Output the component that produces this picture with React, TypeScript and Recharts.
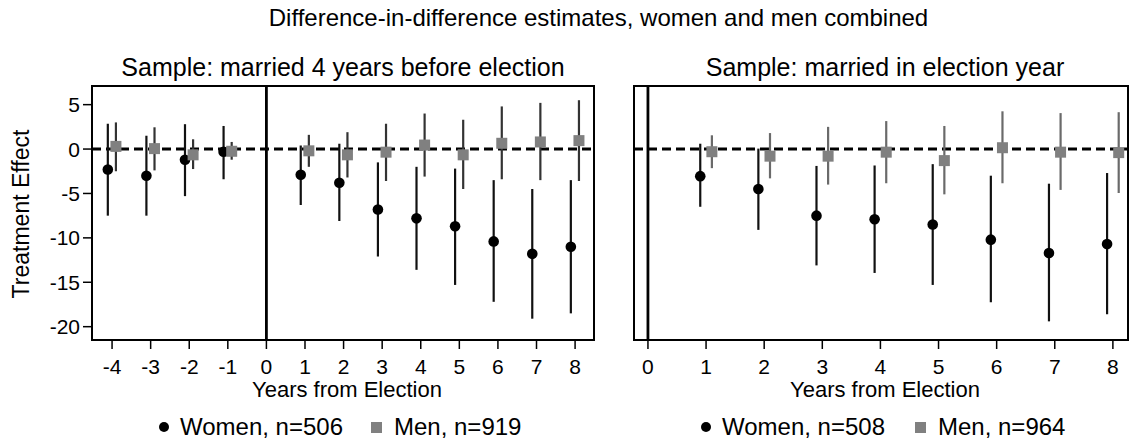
import React from 'react';
import { ScatterChart, Scatter, XAxis, YAxis, ErrorBar, ReferenceLine, ReferenceArea } from 'recharts';

// left panel: married 4 years before election
const leftYears = [-4, -3, -2, -1, 1, 2, 3, 4, 5, 6, 7, 8];
const leftWomenEst = [-2.3, -3.0, -1.2, -0.3, -2.9, -3.8, -6.8, -7.8, -8.7, -10.4, -11.8, -11.0];
const leftWomenLo = [-7.5, -7.5, -5.3, -3.4, -6.3, -8.1, -12.1, -13.6, -15.3, -17.2, -19.1, -18.5];
const leftWomenHi = [2.85, 1.5, 2.8, 2.6, 0.4, 0.6, -1.5, -2.0, -2.2, -3.5, -4.5, -3.5];
const leftMenEst = [0.3, 0.05, -0.65, -0.25, -0.2, -0.65, -0.35, 0.45, -0.65, 0.65, 0.8, 0.95];
const leftMenLo = [-2.5, -2.4, -2.25, -1.2, -2.0, -3.2, -3.6, -3.1, -4.5, -3.4, -3.5, -3.6];
const leftMenHi = [3.0, 2.45, 1.1, 0.8, 1.6, 1.9, 2.85, 4.0, 3.3, 4.8, 5.2, 5.5];

// right panel: married in election year
const rightYears = [1, 2, 3, 4, 5, 6, 7, 8];
const rightWomenEst = [-3.05, -4.5, -7.5, -7.9, -8.5, -10.2, -11.7, -10.7];
const rightWomenLo = [-6.5, -9.1, -13.1, -13.95, -15.3, -17.25, -19.4, -18.6];
const rightWomenHi = [0.6, 0.05, -1.9, -1.85, -1.7, -3.0, -3.9, -2.7];
const rightMenEst = [-0.3, -0.8, -0.8, -0.35, -1.3, 0.15, -0.35, -0.4];
const rightMenLo = [-2.15, -3.3, -4.0, -3.85, -5.1, -3.85, -4.6, -4.95];
const rightMenHi = [1.55, 1.8, 2.5, 3.15, 2.6, 4.25, 4.05, 4.15];

const leftXTicks = [-4, -3, -2, -1, 0, 1, 2, 3, 4, 5, 6, 7, 8];
const rightXTicks = [0, 1, 2, 3, 4, 5, 6, 7, 8];
const yTicks = [-20, -15, -10, -5, 0, 5];
const yDomain = [-21.5, 7.1];

const FONT = '"Liberation Sans", Arial, sans-serif';
const GRAY = '#808080';

const build = (xs: number[], est: number[], lo: number[], hi: number[], shift: number) =>
  xs.map((x, i) => ({ x: x + shift, y: est[i], err: [est[i] - lo[i], hi[i] - est[i]] }));

const Square = (p: any) => <rect x={p.cx - 5.5} y={p.cy - 5.5} width={11} height={11} fill={GRAY} />;
const Dot = (p: any) => <circle cx={p.cx} cy={p.cy} r={5.3} fill="#000" />;

type PanelProps = {
  width: number;
  yAxisWidth: number;
  showYLabels: boolean;
  xDomain: number[];
  xTicks: number[];
  women: any[];
  men: any[];
  menBar: string;
  right: number;
};

const Panel = ({ width, yAxisWidth, showYLabels, xDomain, xTicks, women, men, menBar, right }: PanelProps) => (
  <ScatterChart width={width} height={441} margin={{ top: 86, right, bottom: 71, left: 0 }}>
    <XAxis
      type="number"
      dataKey="x"
      domain={xDomain}
      ticks={xTicks}
      allowDataOverflow
      axisLine={false}
      tickSize={9}
      tickMargin={10}
      tickLine={{ stroke: '#000', strokeWidth: 1.5 }}
      tick={{ fill: '#000', fontSize: 21, fontFamily: FONT }}
      height={30}
    />
    <YAxis
      type="number"
      dataKey="y"
      domain={yDomain}
      ticks={yTicks}
      allowDataOverflow
      axisLine={false}
      tickSize={9}
      tickMargin={3}
      tickLine={{ stroke: '#000', strokeWidth: 1.5 }}
      tick={showYLabels ? { fill: '#000', fontSize: 21, fontFamily: FONT } : false}
      width={yAxisWidth}
    />
    <ReferenceArea
      x1={xDomain[0]}
      x2={xDomain[1]}
      y1={yDomain[0]}
      y2={yDomain[1]}
      fill="none"
      stroke="#000"
      strokeWidth={2}
      ifOverflow="visible"
    />
    <ReferenceLine x={0} stroke="#000" strokeWidth={2.8} />
    <ReferenceLine y={0} stroke="#000" strokeWidth={3} strokeDasharray="9 5" />
    <Scatter data={women} fill="#000" shape={Dot} isAnimationActive={false}>
      <ErrorBar dataKey="err" direction="y" width={0} stroke="#111" strokeWidth={2.2} />
    </Scatter>
    <Scatter data={men} fill={GRAY} shape={Square} isAnimationActive={false}>
      <ErrorBar dataKey="err" direction="y" width={0} stroke={menBar} strokeWidth={2.2} />
    </Scatter>
  </ScatterChart>
);

const txt = (extra: React.CSSProperties): React.CSSProperties => ({
  position: 'absolute',
  fontFamily: FONT,
  color: '#000',
  whiteSpace: 'nowrap',
  lineHeight: 1,
  ...extra,
});

const LegendRow = ({ left, women, men, gap }: { left: number; women: string; men: string; gap: number }) => (
  <div style={txt({ left, top: 415, fontSize: 24, display: 'flex', alignItems: 'center' })}>
    <span style={{ width: 10, height: 10, borderRadius: '50%', background: '#000', marginRight: 11 }} />
    <span>{women}</span>
    <span style={{ width: 11, height: 11, background: GRAY, marginLeft: gap, marginRight: 12 }} />
    <span>{men}</span>
  </div>
);

export default function App() {
  return (
    <div style={{ position: 'absolute', left: 0, top: 0, width: 1131, height: 441, background: '#fff' }}>
      <div style={txt({ left: 0, width: 1131, textAlign: 'center', paddingLeft: 66, boxSizing: 'border-box', top: 6, fontSize: 24 })}>
        Difference-in-difference estimates, women and men combined
      </div>
      <div style={txt({ left: 92, width: 502, textAlign: 'center', top: 55, fontSize: 25 })}>
        Sample: married 4 years before election
      </div>
      <div style={txt({ left: 634, width: 502, textAlign: 'center', top: 55, fontSize: 25 })}>
        Sample: married in election year
      </div>
      <div
        style={txt({
          left: 21,
          top: 214,
          fontSize: 23,
          transform: 'translate(-50%, -50%) rotate(-90deg)',
        })}
      >
        Treatment Effect
      </div>
      <div style={{ position: 'absolute', left: 0, top: 0 }}>
        <Panel
          width={600}
          yAxisWidth={92}
          showYLabels
          xDomain={[-4.52, 8.49]}
          xTicks={leftXTicks}
          women={build(leftYears, leftWomenEst, leftWomenLo, leftWomenHi, -0.11)}
          men={build(leftYears, leftMenEst, leftMenLo, leftMenHi, 0.1)}
          menBar="#333"
          right={6}
        />
      </div>
      <div style={{ position: 'absolute', left: 600, top: 0 }}>
        <Panel
          width={531}
          yAxisWidth={34}
          showYLabels={false}
          xDomain={[-0.24, 8.26]}
          xTicks={rightXTicks}
          women={build(rightYears, rightWomenEst, rightWomenLo, rightWomenHi, -0.1)}
          men={build(rightYears, rightMenEst, rightMenLo, rightMenHi, 0.1)}
          menBar="#6a6a6a"
          right={3}
        />
      </div>
      <div style={txt({ left: 96, width: 502, textAlign: 'center', top: 379, fontSize: 22 })}>Years from Election</div>
      <div style={txt({ left: 634, width: 502, textAlign: 'center', top: 379, fontSize: 22 })}>Years from Election</div>
      <LegendRow left={159} women="Women, n=506" men="Men, n=919" gap={28} />
      <LegendRow left={701} women="Women, n=508" men="Men, n=964" gap={30} />
    </div>
  );
}
